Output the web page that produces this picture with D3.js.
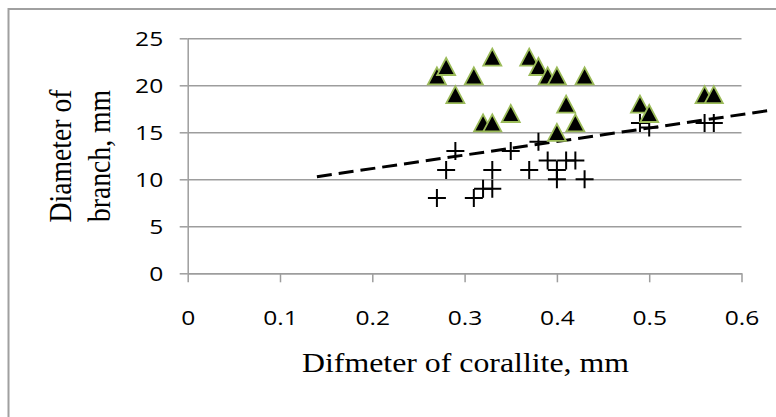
<!DOCTYPE html>
<html>
<head>
<meta charset="utf-8">
<script src="https://cdn.jsdelivr.net/npm/d3@7"></script>
<style>
  html, body { margin: 0; padding: 0; background: #fff; }
  svg { display: block; }
</style>
</head>
<body>
<svg id="chart" width="776" height="417"></svg>
<script>
// ---- Data ----
const triangleX = [0.27, 0.28, 0.29, 0.31, 0.32, 0.33, 0.33, 0.35, 0.37, 0.38, 0.39, 0.40, 0.40, 0.41, 0.42, 0.43, 0.49, 0.50, 0.56, 0.57];
const triangleY = [21, 22, 19, 21, 16, 16, 23, 17, 23, 22, 21, 21, 15, 18, 16, 21, 18, 17, 19, 19];

const plusX = [0.27, 0.28, 0.29, 0.31, 0.32, 0.33, 0.33, 0.35, 0.37, 0.38, 0.39, 0.40, 0.40, 0.41, 0.42, 0.43, 0.49, 0.50, 0.56, 0.57];
const plusY = [8, 11, 13, 8, 9, 9, 11, 13, 11, 14, 12, 11, 10, 12, 12, 10, 16, 15.5, 16, 16];

const trendX = [0.14, 0.632];
const trendY = [10.28, 17.35];

const xTicks = [0, 0.1, 0.2, 0.3, 0.4, 0.5, 0.6];
const yTicks = [0, 5, 10, 15, 20, 25];
const xTitle = "Difmeter of corallite, mm";
const yTitleLines = ["Diameter of", "branch,  mm"];

// ---- Layout ----
const svg = d3.select("#chart");
const pLeft = 187.7, pRight = 741.5, pTop = 38.3, pBottom = 273.3;
const sx = 1.15;   // horizontal stretch of title text
const tsx = 1.2;   // horizontal stretch of tick text

const x = d3.scaleLinear().domain([0, 0.6]).range([pLeft, pRight]);
const y = d3.scaleLinear().domain([0, 25]).range([pBottom, pTop]);

// outer border
svg.append("rect")
  .attr("x", 8.5).attr("y", 9)
  .attr("width", 800).attr("height", 430)
  .attr("fill", "none").attr("stroke", "#a0a0a0").attr("stroke-width", 2);

const gridColor = "#9d9d9d";

// gridlines
svg.append("g")
  .attr("transform", `translate(${pLeft},0)`)
  .call(d3.axisLeft(y).tickValues(yTicks).tickSize(-(pRight - pLeft)).tickFormat(""))
  .call(g => g.select(".domain").remove())
  .call(g => g.selectAll("line").attr("stroke", gridColor).attr("stroke-width", 1.5));

// y axis with outward ticks
const yAxisG = svg.append("g")
  .attr("transform", `translate(${pLeft},0)`)
  .call(d3.axisLeft(y).tickValues(yTicks).tickSize(8).tickSizeOuter(0).tickPadding(0).tickFormat(d3.format("d")));
yAxisG.select(".domain").attr("stroke", gridColor).attr("stroke-width", 1.5);
yAxisG.selectAll(".tick line").attr("stroke", gridColor).attr("stroke-width", 1.5);
yAxisG.selectAll(".tick text").remove();
yAxisG.selectAll(".tick").append("text")
  .attr("transform", `translate(-24.5,0) scale(${tsx},1)`)
  .attr("text-anchor", "end")
  .attr("dy", "0.36em")
  .attr("fill", "#000")
  .style("font-family", "'Open Sans', sans-serif")
  .style("font-size", "20.5px")
  .text(d => d);

// x axis
const xAxisG = svg.append("g")
  .attr("transform", `translate(0,${pBottom})`)
  .call(d3.axisBottom(x).tickValues(xTicks).tickSize(9).tickSizeOuter(0).tickFormat(""));
xAxisG.select(".domain").attr("stroke", gridColor).attr("stroke-width", 1.5);
xAxisG.selectAll(".tick line").attr("stroke", gridColor).attr("stroke-width", 1.5);
xAxisG.selectAll(".tick").append("text")
  .attr("transform", `translate(0,52) scale(${tsx},1)`)
  .attr("text-anchor", "middle")
  .attr("fill", "#000")
  .style("font-family", "'Open Sans', sans-serif")
  .style("font-size", "20.5px")
  .text(d => d3.format("")(d));

// trendline
svg.append("path")
  .datum(d3.zip(trendX, trendY))
  .attr("d", d3.line().x(d => x(d[0])).y(d => y(d[1])))
  .attr("fill", "none").attr("stroke", "#000")
  .attr("stroke-width", 3)
  .attr("stroke-dasharray", "15,7");

// plus markers
const plusData = d3.zip(plusX, plusY);
svg.append("g").selectAll("path")
  .data(plusData).join("path")
  .attr("transform", d => `translate(${x(d[0])},${y(d[1])})`)
  .attr("d", "M-9,0H9M0,-9V9")
  .attr("stroke", "#000").attr("stroke-width", 2).attr("fill", "none");

// triangle markers
const triData = d3.zip(triangleX, triangleY);
svg.append("g").selectAll("path")
  .data(triData).join("path")
  .attr("transform", d => `translate(${x(d[0])},${y(d[1])})`)
  .attr("d", "M0,-8.5L9,8.5L-9,8.5Z")
  .attr("fill", "#000").attr("stroke", "#9bbb59").attr("stroke-width", 1.8)
  .attr("stroke-linejoin", "miter");

// x title
svg.append("text")
  .attr("transform", `translate(${(303 + 628) / 2},372) scale(${sx},1)`)
  .attr("text-anchor", "middle")
  .style("font-family", "'Liberation Serif', 'Times New Roman', serif")
  .style("font-size", "27.7px")
  .attr("fill", "#000")
  .text(xTitle);

// y title
const yt = svg.append("text")
  .attr("transform", `translate(71,156) scale(${sx},1) rotate(-90)`)
  .attr("text-anchor", "middle")
  .style("font-family", "'Liberation Serif', 'Times New Roman', serif")
  .style("font-size", "27.7px")
  .attr("fill", "#000");
yt.selectAll("tspan").data(yTitleLines).join("tspan")
  .attr("x", 0)
  .attr("dy", (d, i) => i === 0 ? 0 : 33.5)
  .text(d => d);
</script>
</body>
</html>
